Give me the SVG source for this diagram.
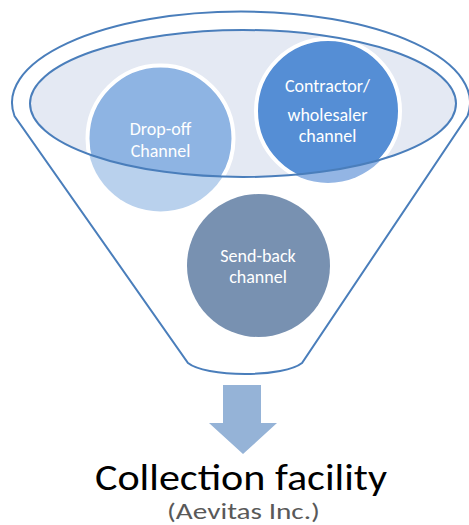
<svg xmlns="http://www.w3.org/2000/svg" width="469" height="525" viewBox="0 0 469 525">
<style>
.line{fill:none;stroke:#4a7ebb;stroke-width:2}
.ct{font-family:Carlito,Lato,"Open Sans",sans-serif;font-size:18px;fill:#ffffff;text-anchor:middle}
.big{font-family:Carlito,Lato,"Open Sans",sans-serif;text-anchor:middle}
</style>
<defs>
<clipPath id="opening"><ellipse cx="243" cy="103.5" rx="213" ry="73.5"/></clipPath>
</defs>
<rect width="469" height="525" fill="#ffffff"/>
<g id="funnel">
<path class="line" d="M14.5,116 A229,91 0 1 1 467.5,116 L302,363 A60,16 0 0 1 188,363 Z" fill="#ffffff"/>
<ellipse cx="243" cy="103.5" rx="213" ry="73.5" fill="#e4e9f3"/>
</g>
<g id="drop-off">
<circle cx="160.5" cy="138.5" r="73" fill="#b9d1ed"/>
<circle cx="160.5" cy="138.5" r="73" fill="#8eb4e3" stroke="#ffffff" stroke-width="4" clip-path="url(#opening)"/>
<text class="ct" x="160.5" y="135">Drop-off</text>
<text class="ct" x="160.5" y="157">Channel</text>
</g>
<g id="contractor">
<circle cx="328" cy="111" r="72" fill="#93b5e4"/>
<circle cx="328" cy="111" r="72" fill="#558ed5" stroke="#ffffff" stroke-width="4" clip-path="url(#opening)"/>
<text class="ct" x="327.5" y="92">Contractor/</text>
<text class="ct" x="327.5" y="121">wholesaler</text>
<text class="ct" x="327.5" y="142">channel</text>
</g>
<g id="opening-rim">
<ellipse class="line" cx="243" cy="103.5" rx="213" ry="73.5"/>
</g>
<g id="send-back">
<circle cx="258.5" cy="265.5" r="71.5" fill="#7891b1"/>
<text class="ct" x="258" y="262">Send-back</text>
<text class="ct" x="258" y="283">channel</text>
</g>
<g id="connectors">
<path d="M223,385 L261,385 L261,423 L277,423 L243,454 L209,423 L223,423 Z" fill="#95b3d7"/>
</g>
<g id="collection">
<text class="big" x="241" y="490" font-size="37" fill="#000000" textLength="292" lengthAdjust="spacingAndGlyphs">Collection facility</text>
<text class="big" x="243.5" y="519" font-size="23" fill="#595959" textLength="153" lengthAdjust="spacingAndGlyphs">(Aevitas Inc.)</text>
</g>
</svg>
